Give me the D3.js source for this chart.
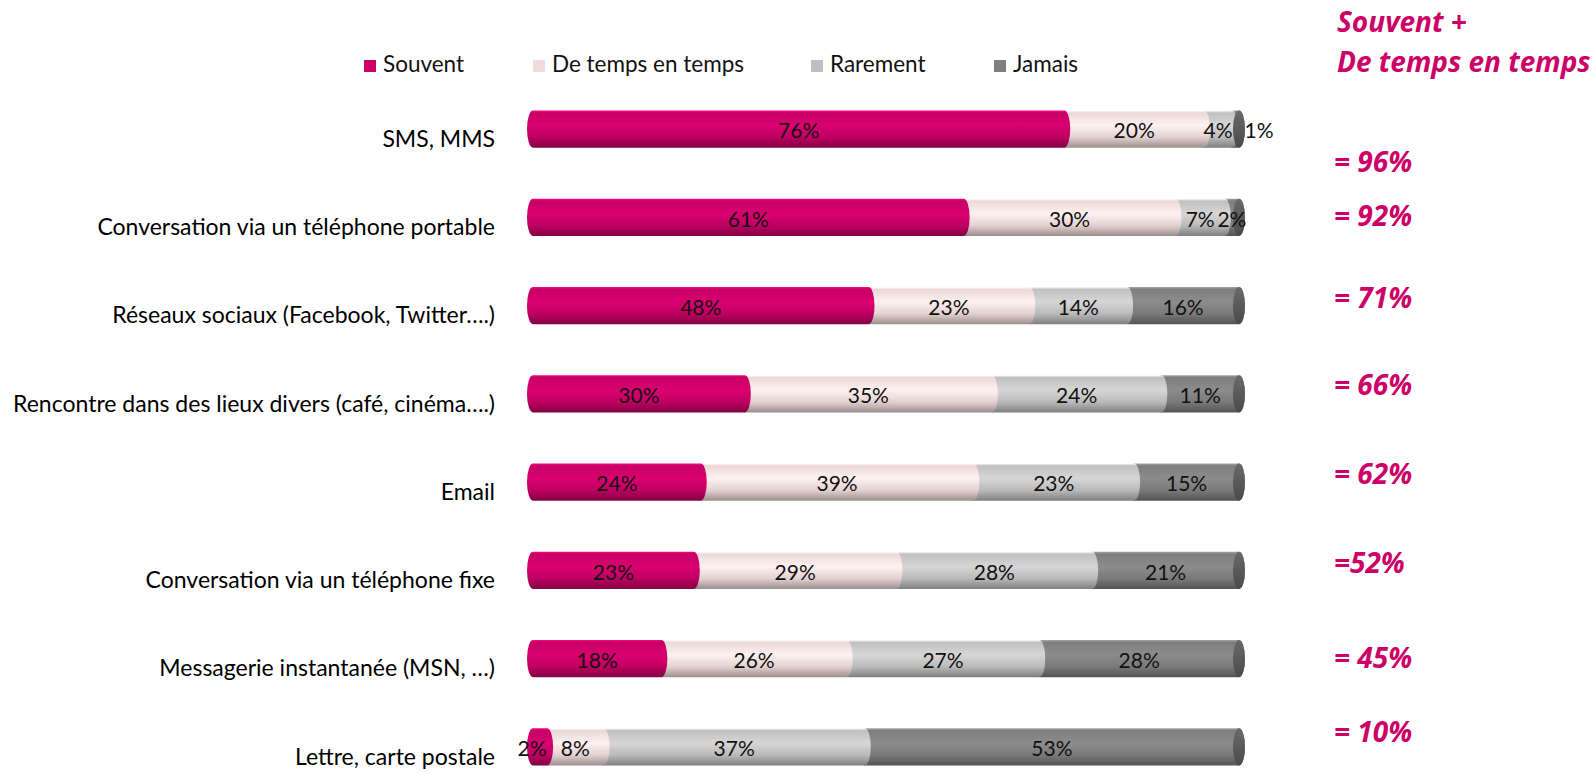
<!DOCTYPE html>
<meta charset="utf-8">
<style>
body { margin: 0; background: #fff; }
text { font-family: Lato, "Open Sans", sans-serif; }
.row-label { font-size: 23px; fill: #000; }
.val { font-size: 21px; fill: #111; }
.legend text { font-size: 22.5px; fill: #111; }
.total { font-family: "Open Sans", Lato, sans-serif; font-size: 28px; font-weight: bold; font-style: italic; fill: #cc0066; }
</style>
<script src="https://d3js.org/d3.v7.min.js"></script>
<svg width="1595" height="773"></svg>
<script>

  var categories = ["SMS, MMS", "Conversation via un téléphone portable", "Réseaux sociaux (Facebook, Twitter….)",
    "Rencontre dans des lieux divers (café, cinéma….)", "Email", "Conversation via un téléphone fixe",
    "Messagerie instantanée (MSN, …)", "Lettre, carte postale"];
  var seriesNames = ["Souvent", "De temps en temps", "Rarement", "Jamais"];
  var souvent = [76, 61, 48, 30, 24, 23, 18, 2];
  var deTemps = [20, 30, 23, 35, 39, 29, 26, 8];
  var rarement = [4, 7, 14, 24, 23, 28, 27, 37];
  var jamais = [1, 2, 16, 11, 15, 21, 28, 53];
  var totalLabels = ["= 96%", "= 92%", "= 71%", "= 66%", "= 62%", "=52%", "= 45%", "= 10%"];

  var colors = ["#d0006a", "#f8e4e4", "#cbcbcb", "#858585"];
  var legendColors = ["#cc0066", "#f2dcdb", "#bfbfbf", "#7f7f7f"];
  // vertical nudges of the right-hand totals (layout only)
  var totalDy = [35, 1, -5, -6, -6, -5, 2, -12];

  var svg = d3.select("svg");
  var rx = 6;

  var y = d3.scaleBand().domain(categories).range([85, 791]).paddingInner(0.58).paddingOuter(0.29);
  var x = d3.scaleLinear().domain([0, 1]).range([533, 1239]);

  var rows = categories.map(function(c, i) {
    var v = [souvent[i], deTemps[i], rarement[i], jamais[i]];
    var tot = d3.sum(v), acc = 0;
    return { cat: c, i: i, segs: v.map(function(d, k) {
      var s = { k: k, value: d, x0: acc / tot, x1: (acc + d) / tot };
      acc += d;
      return s;
    }) };
  });

  // cylinder gradients
  var defs = svg.append("defs");
  colors.forEach(function(c, k) {
    var base = d3.color(c);
    var g = defs.append("linearGradient").attr("id", "g" + k)
        .attr("x1", 0).attr("y1", 0).attr("x2", 0).attr("y2", 1);
    var stops = [[0, base.brighter(0.6)], [0.06, base.darker(0.15)], [0.4, base.brighter(0.15)],
      [0.72, base.darker(0.25)], [1, base.darker(1.3)]];
    stops.forEach(function(s) { g.append("stop").attr("offset", s[0]).attr("stop-color", s[1]); });
  });
  var capG = defs.append("linearGradient").attr("id", "cap")
      .attr("x1", 0).attr("y1", 0).attr("x2", 0).attr("y2", 1);
  capG.append("stop").attr("offset", 0).attr("stop-color", "#6a6a6a");
  capG.append("stop").attr("offset", 1).attr("stop-color", "#4a4a4a");

  function segPath(a, b, top, h) {
    var ry = h / 2;
    return "M" + a + "," + top + " L" + b + "," + top +
      " A" + rx + "," + ry + " 0 0 1 " + b + "," + (top + h) +
      " L" + a + "," + (top + h) +
      " A" + rx + "," + ry + " 0 0 1 " + a + "," + top + "Z";
  }

  var h = y.bandwidth();

  var row = svg.selectAll(".row").data(rows).enter().append("g").attr("class", "row");

  row.each(function(r) {
    var g = d3.select(this);
    var top = y(r.cat);
    r.segs.slice().reverse().forEach(function(s) {
      if (s.value <= 0) return;
      g.append("path")
        .attr("d", segPath(x(s.x0), x(s.x1), top, h))
        .attr("fill", "url(#g" + s.k + ")");
    });
    g.append("ellipse")
      .attr("cx", x(1)).attr("cy", top + h / 2)
      .attr("rx", rx).attr("ry", h / 2)
      .attr("fill", "url(#cap)");

    r.segs.forEach(function(s) {
      var cx = (x(s.x0) + x(s.x1)) / 2;
      if (s.value <= 1) cx = x(1) + 20;
      if (s.k === 0 && s.value <= 2) cx -= 8;
      g.append("text").attr("class", "val")
        .attr("x", cx).attr("y", top + h / 2 + 4)
        .attr("text-anchor", "middle").attr("dominant-baseline", "middle")
        .text(s.value + "%");
    });

    g.append("text").attr("class", "row-label")
      .attr("x", 495).attr("y", top + h / 2 + 12)
      .attr("text-anchor", "end").attr("dominant-baseline", "middle")
      .text(r.cat);

    g.append("text").attr("class", "total")
      .attr("x", 1334).attr("y", top + h / 2 + totalDy[r.i])
      .attr("dominant-baseline", "middle")
      .text(totalLabels[r.i]);
  });

  // legend
  var legendX = [364, 533, 811, 994];
  var lg = svg.append("g").attr("class", "legend").selectAll("g").data(seriesNames).enter().append("g")
      .attr("transform", function(d, i) { return "translate(" + legendX[i] + ",60)"; });
  lg.append("rect").attr("width", 12).attr("height", 12).attr("fill", function(d, i) { return legendColors[i]; });
  lg.append("text").attr("x", 19).attr("y", 6).attr("dominant-baseline", "middle").text(function(d) { return d; });

  svg.append("text").attr("class", "total").attr("x", 1337).attr("y", 25)
    .attr("dominant-baseline", "middle").text("Souvent +");
  svg.append("text").attr("class", "total").attr("x", 1337).attr("y", 65)
    .attr("dominant-baseline", "middle").text("De temps en temps");

</script>
